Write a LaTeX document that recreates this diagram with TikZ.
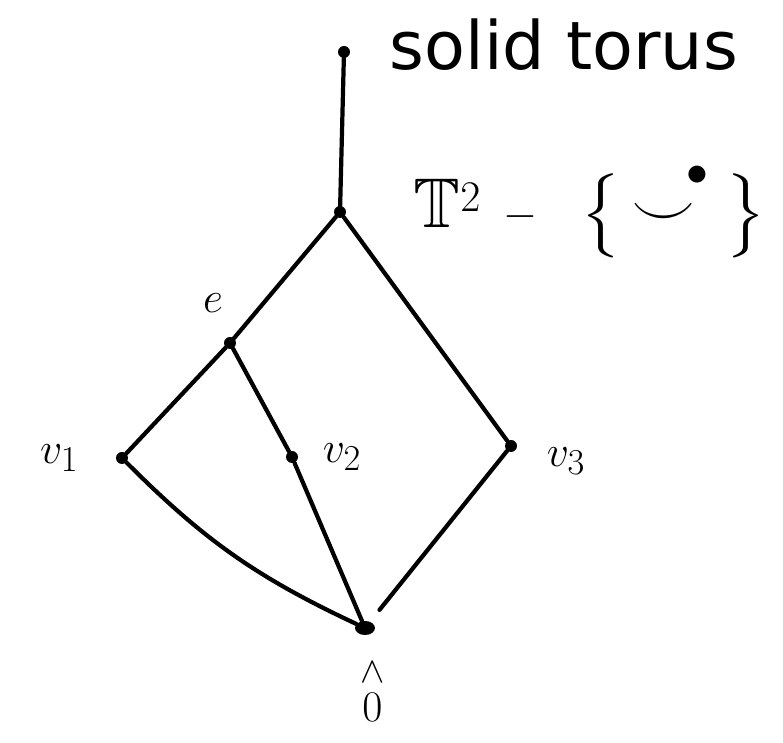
\documentclass[tikz,border=0pt]{standalone}
\usepackage{amsmath, amssymb}
\usepackage{fontspec}
\newfontfamily\handfont{DejaVu Sans}
\usepackage{tikz}
\usetikzlibrary{positioning, shapes.geometric}
\tikzset{
    % Vertices and edges
    vtx/.style={circle, fill=black, inner sep=0pt, minimum size=0.24cm},
    edge/.style={line width=2.4pt, line cap=round, black},
    % Labels
    lbl/.style={inner sep=1pt, font=\fontsize{30}{34}\selectfont}
}
\begin{document}
\begin{tikzpicture}
\useasboundingbox (0,0) rectangle (15.66,14.86);

% Vertices
\node[vtx] (top) at (6.88,13.82) {};
\node[vtx] (tor) at (6.80,10.62) {};
\node[vtx] (e)   at (4.60,8.00) {};
\node[vtx] (v1)  at (2.44,5.70) {};
\node[vtx] (v2)  at (5.84,5.72) {};
\node[vtx] (v3)  at (10.22,5.94) {};
\node[vtx, ellipse, minimum width=0.4cm, minimum height=0.28cm] (bot) at (7.30,2.30) {};

% Labels
\node[lbl, right=0.75cm of top, yshift=0.15cm, font=\fontsize{38}{42}\selectfont\handfont] (ltop) {solid torus};
\node[lbl, right=1.3cm of tor, font=\fontsize{40}{44}\selectfont] (ltor)
    {$\mathbb{T}^2\;-\;\hspace{0.3em}\bigl\{\hspace{0.15em}\scalebox{1.5}{$\smile$}\mkern-4mu\raisebox{0.6em}{$\bullet$}\hspace{0.25em}\bigr\}$};
\node[lbl, above=0.45cm of e, xshift=-0.34cm] (le) {$e$};
\node[lbl, left=0.7cm of v1] (lv1) {$v_1$};
\node[lbl, right=0.45cm of v2] (lv2) {$v_2$};
\node[lbl, right=0.55cm of v3, yshift=-0.3cm] (lv3) {$v_3$};
\node[lbl, below=0.4cm of bot, xshift=0.15cm] (lbot) {$\overset{\wedge}{0}$};

% Edges
\draw[edge] (top) -- (tor);
\draw[edge] (tor) -- (e);
\draw[edge] (tor) -- (v3);
\draw[edge] (e) -- (v1);
\draw[edge] (e) -- (v2);
\draw[edge] (v1) to[bend right=10] (bot);
\draw[edge] (v2) -- (bot);
\draw[edge, shorten >=0.3cm] (v3) -- (bot);

\end{tikzpicture}
\end{document}
